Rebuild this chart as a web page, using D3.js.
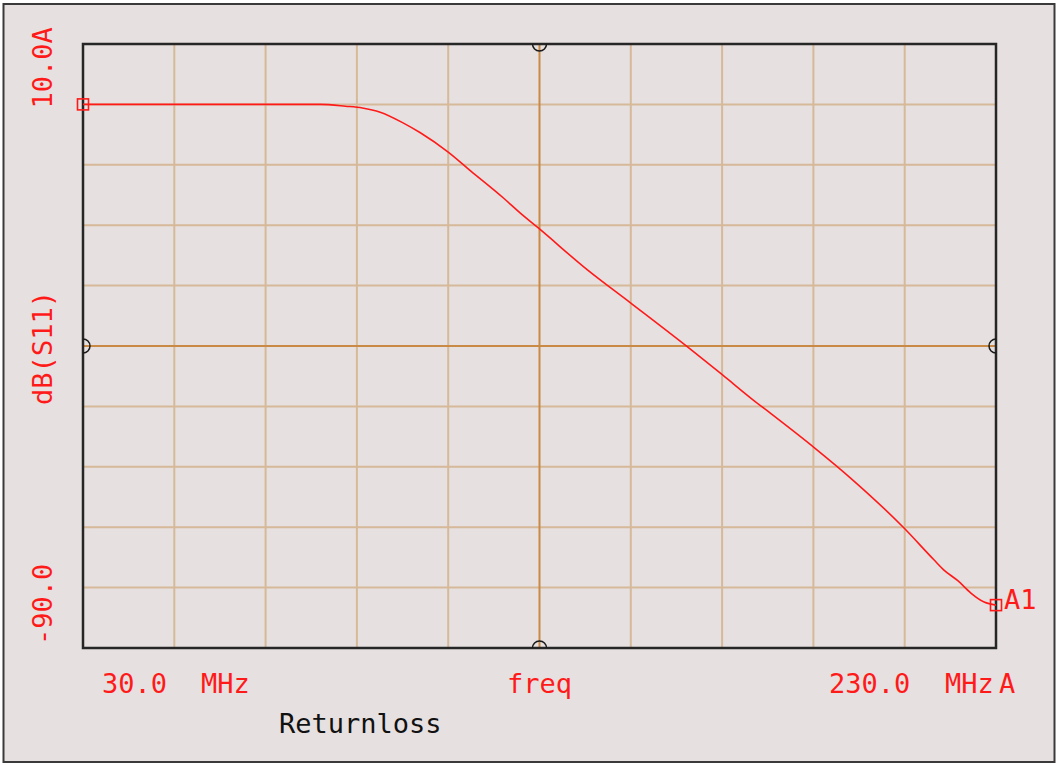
<!DOCTYPE html>
<html>
<head>
<meta charset="utf-8">
<script src="https://cdn.jsdelivr.net/npm/d3@7"></script>
<style>
  html, body { margin: 0; padding: 0; background: #ffffff; }
  svg { display: block; }
  text { font-family: "DejaVu Sans Mono", "Liberation Mono", monospace; font-size: 27px; }
</style>
</head>
<body>
<svg id="chart" width="1058" height="765"></svg>
<script>
// Frequency sweep (MHz) and return loss dB(S11)
const freqMHz = [30, 60, 82, 87.5, 91.2, 95.1, 100.2, 103.9, 110.0, 114.9, 122.1, 125.8, 129.8,
  140.5, 150.0, 162.5, 170.1, 176.9, 180.7, 190.3, 198.2, 209.8, 216.4, 218.6, 221.7, 224.5, 227.4, 230];
const s11dB = [0, 0, 0, -0.3, -0.6, -1.3, -3.1, -4.7, -7.9, -11.0, -15.5, -18.0, -20.5,
  -27.4, -32.9, -40.2, -44.8, -49.0, -51.2, -56.9, -61.9, -70.1, -75.4, -77.1, -78.9, -80.9, -82.4, -82.9];

// Grid divisions
const xTicks = [30, 50, 70, 90, 110, 130, 150, 170, 190, 210, 230];
const yTicks = [10, 0, -10, -20, -30, -40, -50, -60, -70, -80, -90];
const xCenter = 130;
const yCenter = -40;

// Axis labels
const yTopLabel = "10.0A";
const yBottomLabel = "-90.0";
const yTitle = "dB(S11)";
const xStartLabel = "30.0";
const xEndLabel = "230.0";
const unitLabel = "MHz";
const xTitle = "freq";
const traceName = "Returnloss";
const markerName = "A1";

const svg = d3.select("#chart");

const x = d3.scaleLinear().domain([30, 230]).range([83, 996]);
const y = d3.scaleLinear().domain([-90, 10]).range([648, 44]);

// Panel background and outer frame
svg.append("rect").attr("x", 0).attr("y", 0).attr("width", 1058).attr("height", 765).attr("fill", "#ffffff");
svg.append("rect").attr("x", 3.5).attr("y", 4).attr("width", 1051).attr("height", 758)
  .attr("fill", "#e6e0e0").attr("stroke", "#3a3a3a").attr("stroke-width", 2);

const grid = svg.append("g");
// Vertical grid lines
grid.selectAll("line.vx").data(xTicks.filter(d => d !== xCenter)).join("line")
  .attr("x1", d => x(d)).attr("x2", d => x(d)).attr("y1", y(10)).attr("y2", y(-90))
  .attr("stroke", "#d6b998").attr("stroke-width", 2);
// Horizontal grid lines
grid.selectAll("line.hy").data(yTicks.filter(d => d !== yCenter)).join("line")
  .attr("y1", d => y(d)).attr("y2", d => y(d)).attr("x1", x(30)).attr("x2", x(230))
  .attr("stroke", "#d6b998").attr("stroke-width", 2);
// Center cross lines
grid.append("line").attr("x1", x(xCenter)).attr("x2", x(xCenter)).attr("y1", y(10)).attr("y2", y(-90))
  .attr("stroke", "#c98a45").attr("stroke-width", 2);
grid.append("line").attr("y1", y(yCenter)).attr("y2", y(yCenter)).attr("x1", x(30)).attr("x2", x(230))
  .attr("stroke", "#c98a45").attr("stroke-width", 2);

// Plot border
svg.append("rect").attr("x", x(30)).attr("y", y(10))
  .attr("width", x(230) - x(30)).attr("height", y(-90) - y(10))
  .attr("fill", "none").attr("stroke", "#262626").attr("stroke-width", 2.5);

// Half-circle center ticks on each edge, bulging into the plot
const r = 7;
const ticksG = svg.append("g").attr("fill", "none").attr("stroke", "#1a1a1a").attr("stroke-width", 1.5);
const cxm = x(xCenter), cym = y(yCenter);
const halfArcs = [
  `M${cxm - r},${y(10)} A${r},${r} 0 0 0 ${cxm + r},${y(10)}`,
  `M${cxm - r},${y(-90)} A${r},${r} 0 0 1 ${cxm + r},${y(-90)}`,
  `M${x(30)},${cym - r} A${r},${r} 0 0 1 ${x(30)},${cym + r}`,
  `M${x(230)},${cym - r} A${r},${r} 0 0 0 ${x(230)},${cym + r}`
];
ticksG.selectAll("path").data(halfArcs).join("path").attr("d", d => d);

// Trace
const pts = freqMHz.map((f, i) => [f, s11dB[i]]);
svg.append("path").datum(pts)
  .attr("fill", "none").attr("stroke", "#ff1a1a").attr("stroke-width", 1.6)
  .attr("d", d3.line().x(d => x(d[0])).y(d => y(d[1])).curve(d3.curveMonotoneX));

// Start / end markers
const ends = [pts[0], pts[pts.length - 1]];
svg.selectAll("rect.mk").data(ends).join("rect")
  .attr("x", d => x(d[0]) - 5.5).attr("y", d => y(d[1]) - 5.5)
  .attr("width", 11).attr("height", 11)
  .attr("fill", "none").attr("stroke", "#ff1a1a").attr("stroke-width", 1.6);

// Labels
const red = "#ff1a1a";
const lab = svg.append("g").attr("fill", red);
lab.append("text").attr("transform", `translate(52,${y(0) + 4}) rotate(-90)`).text(yTopLabel);
lab.append("text").attr("transform", `translate(52,${y(-90) - 3}) rotate(-90)`).text(yBottomLabel);
lab.append("text").attr("transform", `translate(52,${y(yCenter) + 2}) rotate(-90)`)
  .attr("text-anchor", "middle").text(yTitle);

lab.append("text").attr("x", 102).attr("y", 693).text(xStartLabel);
lab.append("text").attr("x", 201).attr("y", 693).text(unitLabel);
lab.append("text").attr("x", 507).attr("y", 693).text(xTitle);
lab.append("text").attr("x", 829).attr("y", 693).text(xEndLabel);
lab.append("text").attr("x", 945).attr("y", 693).text(unitLabel);
lab.append("text").attr("x", 999).attr("y", 693).text("A");
lab.append("text").attr("x", x(230) + 8).attr("y", y(s11dB[s11dB.length - 1]) + 4).text(markerName);

svg.append("text").attr("x", 279).attr("y", 733).attr("fill", "#111").text(traceName);
</script>
</body>
</html>
